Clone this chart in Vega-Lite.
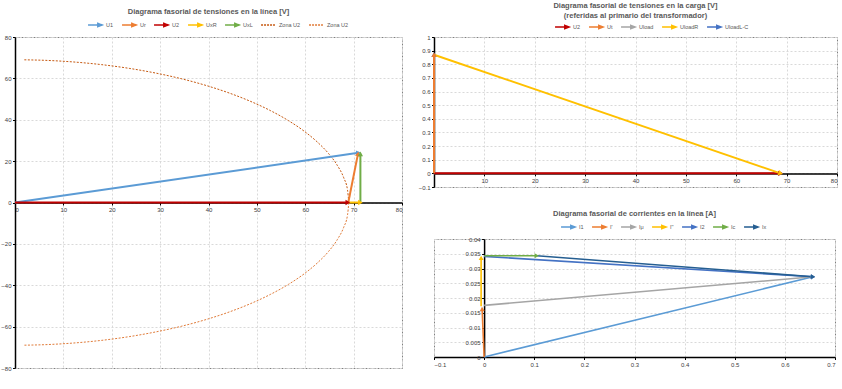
{
  "$schema": "https://vega.github.io/schema/vega-lite/v6.json",
  "background": "white",
  "padding": {"left": 0, "top": 1, "right": 0, "bottom": 0},
  "config": {
    "font": "Liberation Sans",
    "view": {"stroke": "#7f7f7f", "strokeDash": [2, 1], "strokeWidth": 1},
    "axis": {
      "title": null, "labelFontSize": 6, "labelColor": "#404040", "labelOverlap": false, "labelSeparation": 0,
      "domainColor": "#000000", "domainWidth": 1.5, "tickColor": "#000000",
      "tickSize": 2.5, "labelPadding": 1.5, "gridColor": "#d9d9d9", "gridDash": [2, 2]
    },
    "title": {"fontSize": 7.5, "color": "#595959", "fontWeight": "bold", "anchor": "middle"},
    "legend": {
      "orient": "none", "direction": "horizontal", "title": null, "labelFontSize": 5.5,
      "labelColor": "#595959", "columnPadding": 4, "gridAlign": "none", "symbolSize": 40, "symbolStrokeWidth": 1.6,
      "symbolType": "M-2.2,0H0.9M0.9,-0.5L2.2,0L0.9,0.5Z", "labelOffset": 7, "padding": 0
    }
  },
  "datasets": {
    "lineaFlechas": [
      {"serie": "U1", "x0": 0, "y0": 0, "x1": 71, "y1": 24},
      {"serie": "U2", "x0": 0, "y0": 0, "x1": 68.8, "y1": 0},
      {"serie": "UxR", "x0": 68.9, "y0": 0, "x1": 71.4, "y1": 0},
      {"serie": "Ur", "x0": 68.9, "y0": 0, "x1": 70.9, "y1": 23.5},
      {"serie": "UxL", "x0": 71.4, "y0": 0, "x1": 71.4, "y1": 23.5}
    ],
    "zonaU2": [
      {"serie": "Zona U2a", "orden": 1, "x": 1.93, "y": 68.97},
      {"serie": "Zona U2a", "orden": 2, "x": 6.01, "y": 68.74},
      {"serie": "Zona U2a", "orden": 3, "x": 11.98, "y": 67.95},
      {"serie": "Zona U2a", "orden": 4, "x": 17.86, "y": 66.65},
      {"serie": "Zona U2a", "orden": 5, "x": 23.6, "y": 64.84},
      {"serie": "Zona U2a", "orden": 6, "x": 29.16, "y": 62.53},
      {"serie": "Zona U2a", "orden": 7, "x": 34.5, "y": 59.76},
      {"serie": "Zona U2a", "orden": 8, "x": 39.58, "y": 56.52},
      {"serie": "Zona U2a", "orden": 9, "x": 44.35, "y": 52.86},
      {"serie": "Zona U2a", "orden": 10, "x": 48.79, "y": 48.79},
      {"serie": "Zona U2a", "orden": 11, "x": 52.86, "y": 44.35},
      {"serie": "Zona U2a", "orden": 12, "x": 56.52, "y": 39.58},
      {"serie": "Zona U2a", "orden": 13, "x": 59.76, "y": 34.5},
      {"serie": "Zona U2a", "orden": 14, "x": 62.53, "y": 29.16},
      {"serie": "Zona U2a", "orden": 15, "x": 64.84, "y": 23.6},
      {"serie": "Zona U2a", "orden": 16, "x": 66.65, "y": 17.86},
      {"serie": "Zona U2a", "orden": 17, "x": 67.95, "y": 11.98},
      {"serie": "Zona U2a", "orden": 18, "x": 68.74, "y": 6.01},
      {"serie": "Zona U2a", "orden": 19, "x": 69, "y": 0},
      {"serie": "Zona U2b", "orden": 1, "x": 69, "y": 0},
      {"serie": "Zona U2b", "orden": 2, "x": 68.74, "y": -6.01},
      {"serie": "Zona U2b", "orden": 3, "x": 67.95, "y": -11.98},
      {"serie": "Zona U2b", "orden": 4, "x": 66.65, "y": -17.86},
      {"serie": "Zona U2b", "orden": 5, "x": 64.84, "y": -23.6},
      {"serie": "Zona U2b", "orden": 6, "x": 62.53, "y": -29.16},
      {"serie": "Zona U2b", "orden": 7, "x": 59.76, "y": -34.5},
      {"serie": "Zona U2b", "orden": 8, "x": 56.52, "y": -39.58},
      {"serie": "Zona U2b", "orden": 9, "x": 52.86, "y": -44.35},
      {"serie": "Zona U2b", "orden": 10, "x": 48.79, "y": -48.79},
      {"serie": "Zona U2b", "orden": 11, "x": 44.35, "y": -52.86},
      {"serie": "Zona U2b", "orden": 12, "x": 39.58, "y": -56.52},
      {"serie": "Zona U2b", "orden": 13, "x": 34.5, "y": -59.76},
      {"serie": "Zona U2b", "orden": 14, "x": 29.16, "y": -62.53},
      {"serie": "Zona U2b", "orden": 15, "x": 23.6, "y": -64.84},
      {"serie": "Zona U2b", "orden": 16, "x": 17.86, "y": -66.65},
      {"serie": "Zona U2b", "orden": 17, "x": 11.98, "y": -67.95},
      {"serie": "Zona U2b", "orden": 18, "x": 6.01, "y": -68.74},
      {"serie": "Zona U2b", "orden": 19, "x": 1.93, "y": -68.97}
    ],
    "cargaFlechas": [
      {"serie": "Uload", "x0": 0, "y0": 0, "x1": 68.8, "y1": 0},
      {"serie": "UloadL-C", "x0": 0, "y0": 0, "x1": 0, "y1": 0.87},
      {"serie": "U2", "x0": 0, "y0": 0, "x1": 68.8, "y1": 0},
      {"serie": "Ut", "x0": 0, "y0": 0, "x1": 0, "y1": 0.87},
      {"serie": "UloadR", "x0": 0, "y0": 0.87, "x1": 68.8, "y1": 0}
    ],
    "corrFlechas": [
      {"serie": "I1", "x0": 0, "y0": 0, "x1": 0.656, "y1": 0.0272},
      {"serie": "I'", "x0": 0, "y0": 0, "x1": -0.004, "y1": 0.0163},
      {"serie": "Iμ", "x0": 0, "y0": 0.0175, "x1": 0.656, "y1": 0.0272},
      {"serie": "I''", "x0": -0.006, "y0": 0.0172, "x1": -0.006, "y1": 0.0336},
      {"serie": "I2", "x0": 0, "y0": 0.0341, "x1": 0.656, "y1": 0.0272},
      {"serie": "Ic", "x0": 0, "y0": 0.0343, "x1": 0.105, "y1": 0.0343},
      {"serie": "Ix", "x0": 0.105, "y0": 0.0343, "x1": 0.656, "y1": 0.0272}
    ]
  },
  "spacing": 14,
  "hconcat": [
    {
      "width": 387,
      "height": 331,
      "title": {"text": "Diagrama fasorial de tensiones en la línea [V]", "offset": 6},
      "encoding": {
        "color": {
          "field": "serie", "type": "nominal",
          "scale": {
            "domain": ["U1", "Ur", "U2", "UxR", "UxL", "Zona U2a", "Zona U2b"],
            "range": ["#5b9bd5", "#ed7d31", "#c00000", "#ffc000", "#70ad47", "#c65911", "#e07b39"]
          },
          "legend": {
            "legendX": 76, "legendY": -16,
            "labelExpr": "indexof(datum.label, 'Zona') >= 0 ? 'Zona U2' : datum.label",
            "encode": {
              "symbols": {"update": {
                "shape": {"signal": "indexof(datum.value, 'Zona') >= 0 ? 'M-2.2,0H2.2' : 'M-2.2,0H0.9M0.9,-0.5L2.2,0L0.9,0.5Z'"},
                "strokeDash": {"signal": "indexof(datum.value, 'Zona') >= 0 ? [2, 1] : [1, 0]"}
              }}
            }
          }
        }
      },
      "layer": [
        {
          "data": {"name": "zonaU2"},
          "mark": {"type": "line", "strokeDash": [2, 1.5], "strokeWidth": 1, "interpolate": "monotone"},
          "encoding": {
            "x": {"field": "x", "type": "quantitative", "scale": {"domain": [0, 80]},
                  "axis": {"values": [0, 10, 20, 30, 40, 50, 60, 70, 80], "offset": -165.5, "grid": true, "labelOverlap": false}},
            "y": {"field": "y", "type": "quantitative", "scale": {"domain": [-80, 80]},
                  "axis": {"values": [-80, -60, -40, -20, 0, 20, 40, 60, 80], "grid": true, "labelOverlap": false}},
            "order": {"field": "orden", "type": "quantitative"}
          }
        },
        {
          "data": {"name": "lineaFlechas"},
          "mark": {"type": "rule", "strokeWidth": 2},
          "encoding": {
            "x": {"field": "x0", "type": "quantitative"},
            "y": {"field": "y0", "type": "quantitative"},
            "x2": {"field": "x1"},
            "y2": {"field": "y1"}
          }
        },
        {
          "data": {"name": "lineaFlechas"},
          "transform": [{"calculate": "-atan2((datum.y1 - datum.y0) * 2.06875, (datum.x1 - datum.x0) * 4.8375) * 180 / PI", "as": "giro"}],
          "mark": {"type": "point", "shape": "triangle-right", "filled": true, "size": 28, "opacity": 1},
          "encoding": {
            "x": {"field": "x1", "type": "quantitative"},
            "y": {"field": "y1", "type": "quantitative"},
            "angle": {"field": "giro", "type": "quantitative", "scale": null}
          }
        }
      ]
    },
    {
      "spacing": 18,
      "resolve": {"scale": {"color": "independent"}},
      "vconcat": [
        {
          "width": 403,
          "height": 150,
          "title": {"text": ["Diagrama fasorial de tensiones en la carga [V]", "(referidas al primario del transformador)"], "offset": 4, "lineHeight": 10},
          "encoding": {
            "color": {
              "field": "serie", "type": "nominal",
              "scale": {
                "domain": ["U2", "Ut", "Uload", "UloadR", "UloadL-C"],
                "range": ["#c00000", "#ed7d31", "#a5a5a5", "#ffc000", "#4472c4"]
              },
              "legend": {"legendX": 124, "legendY": -14}
            }
          },
          "layer": [
            {
              "data": {"name": "cargaFlechas"},
              "mark": {"type": "rule", "strokeWidth": 2},
              "encoding": {
                "x": {"field": "x0", "type": "quantitative", "scale": {"domain": [0, 80]},
                      "axis": {"values": [10, 20, 30, 40, 50, 60, 70, 80], "offset": -13.6, "grid": true, "labelOverlap": false}},
                "y": {"field": "y0", "type": "quantitative", "scale": {"domain": [-0.1, 1]},
                      "axis": {"values": [-0.1, 0, 0.1, 0.2, 0.3, 0.4, 0.5, 0.6, 0.7, 0.8, 0.9, 1], "format": "~g", "grid": true, "labelOverlap": false}},
                "x2": {"field": "x1"},
                "y2": {"field": "y1"}
              }
            },
            {
              "data": {"name": "cargaFlechas"},
              "transform": [{"calculate": "-atan2((datum.y1 - datum.y0) * 136.36, (datum.x1 - datum.x0) * 5.0375) * 180 / PI", "as": "giro"}],
              "mark": {"type": "point", "shape": "triangle-right", "filled": true, "size": 28, "opacity": 1},
              "encoding": {
                "x": {"field": "x1", "type": "quantitative",
                      "axis": {"values": [10, 20, 30, 40, 50, 60, 70, 80], "offset": -13.6, "grid": true, "labelOverlap": false}},
                "y": {"field": "y1", "type": "quantitative",
                      "axis": {"values": [-0.1, 0, 0.1, 0.2, 0.3, 0.4, 0.5, 0.6, 0.7, 0.8, 0.9, 1], "format": "~g", "grid": true, "labelOverlap": false}},
                "angle": {"field": "giro", "type": "quantitative", "scale": null}
              }
            }
          ]
        },
        {
          "width": 401,
          "height": 118,
          "title": {"text": "Diagrama fasorial de corrientes en la línea [A]", "offset": 6},
          "encoding": {
            "color": {
              "field": "serie", "type": "nominal",
              "scale": {
                "domain": ["I1", "I'", "Iμ", "I''", "I2", "Ic", "Ix"],
                "range": ["#5b9bd5", "#ed7d31", "#a5a5a5", "#ffc000", "#4472c4", "#70ad47", "#255e91"]
              },
              "legend": {"legendX": 130, "legendY": -16}
            }
          },
          "layer": [
            {
              "data": {"name": "corrFlechas"},
              "mark": {"type": "rule", "strokeWidth": 1.6},
              "encoding": {
                "x": {"field": "x0", "type": "quantitative", "scale": {"domain": [-0.1, 0.7]},
                      "axis": {"values": [-0.1, 0, 0.1, 0.2, 0.3, 0.4, 0.5, 0.6, 0.7], "format": "~g", "grid": true, "labelOverlap": false}},
                "y": {"field": "y0", "type": "quantitative", "scale": {"domain": [0, 0.04]},
                      "axis": {"values": [0, 0.005, 0.01, 0.015, 0.02, 0.025, 0.03, 0.035, 0.04], "format": "~g", "offset": -50.1, "grid": true, "labelOverlap": false}},
                "x2": {"field": "x1"},
                "y2": {"field": "y1"}
              }
            },
            {
              "data": {"name": "corrFlechas"},
              "transform": [{"calculate": "-atan2((datum.y1 - datum.y0) * 2950, (datum.x1 - datum.x0) * 501.25) * 180 / PI", "as": "giro"}],
              "mark": {"type": "point", "shape": "triangle-right", "filled": true, "size": 24, "opacity": 1},
              "encoding": {
                "x": {"field": "x1", "type": "quantitative",
                      "axis": {"values": [-0.1, 0, 0.1, 0.2, 0.3, 0.4, 0.5, 0.6, 0.7], "format": "~g", "grid": true, "labelOverlap": false}},
                "y": {"field": "y1", "type": "quantitative",
                      "axis": {"values": [0, 0.005, 0.01, 0.015, 0.02, 0.025, 0.03, 0.035, 0.04], "format": "~g", "offset": -50.1, "grid": true, "labelOverlap": false}},
                "angle": {"field": "giro", "type": "quantitative", "scale": null}
              }
            }
          ]
        }
      ]
    }
  ],
  "resolve": {"scale": {"color": "independent"}}
}
